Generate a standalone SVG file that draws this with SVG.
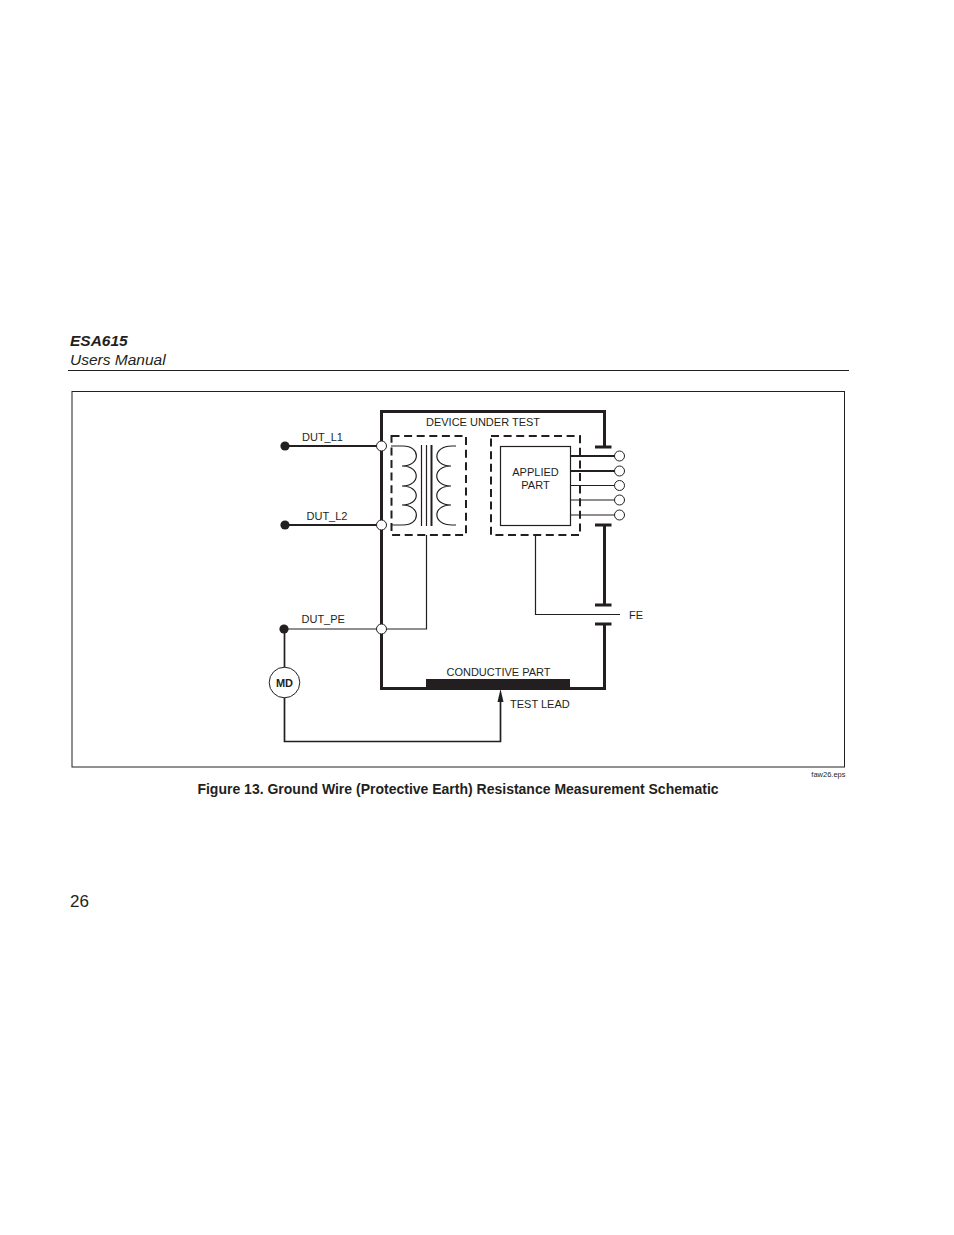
<svg xmlns="http://www.w3.org/2000/svg" width="954" height="1235" viewBox="0 0 954 1235">
<style>
text{font-family:"Liberation Sans",Arial,sans-serif;fill:#231f20}
.l{font-size:11px}
.w{fill:none;stroke:#231f20;stroke-width:1.2}
.h{fill:none;stroke:#231f20;stroke-width:3}
.m{fill:none;stroke:#231f20;stroke-width:2}
.t{fill:none;stroke:#231f20;stroke-width:1.700}
.d{fill:none;stroke:#231f20;stroke-width:2;stroke-dasharray:8 4.600}
.o{fill:#fff;stroke:#231f20;stroke-width:1}
.f{fill:#231f20}
</style>
<rect width="954" height="1235" fill="#fff"/>
<g id="header">
<text x="70" y="346" font-size="15.500" font-weight="bold" font-style="italic">ESA615</text>
<text x="70" y="365" font-size="15.500" font-style="italic">Users Manual</text>
<line x1="68" y1="370.500" x2="849" y2="370.500" stroke="#231f20" stroke-width="1"/>
</g>
<g id="frame"><rect x="72" y="391.500" width="772.500" height="375.500" fill="none" stroke="#231f20" stroke-width="1"/></g>
<g id="connectors">
<path class="h" d="M381.500 446V411.500H604.500V446M604.500 525V604M604.500 624V688.500H381.500V446"/>
<path class="h" d="M595 447H611.500M595 525H611.500M595 605H611.500M595 624H611.500"/>
<path class="m" d="M285 446H381M285 525H381"/>
<path class="w" d="M285 629H426.500V535"/>
<path class="w" d="M535.500 535V614.500H620"/>
<path class="m" d="M570 456H619M570 471H619"/>
<path class="w" d="M570 485.500H619M570 500H619M570 515H619"/>
<path class="t" d="M284.500 629V668M284.500 697V741.500H500.500V700"/>
<path class="f" d="M500.500 689L503.500 702H497.500Z"/>
</g>
<g id="dut_l1"><circle class="f" cx="285" cy="446" r="4.600"/><circle class="o" cx="381.500" cy="446" r="5"/><text class="l" x="302" y="441">DUT_L1</text></g>
<g id="dut_l2"><circle class="f" cx="285" cy="525" r="4.600"/><circle class="o" cx="381.500" cy="525" r="5"/><text class="l" x="306.500" y="520">DUT_L2</text></g>
<g id="dut_pe"><circle class="f" cx="284" cy="629" r="4.600"/><circle class="o" cx="381.500" cy="629" r="5"/><text class="l" x="301.500" y="623">DUT_PE</text></g>
<g id="md"><circle cx="284.500" cy="682.500" r="15.300" fill="#fff" stroke="#231f20" stroke-width="1"/><text x="284.500" y="686.500" font-size="11" font-weight="bold" text-anchor="middle">MD</text></g>
<g id="device_under_test"><text class="l" x="483" y="426" text-anchor="middle">DEVICE UNDER TEST</text></g>
<g id="transformer">
<rect class="d" x="391.500" y="436" width="74.500" height="99"/>
<path class="w" d="M391 446H403C421 446 421 466 402 466C421 466 421 486 402 486C421 486 421 505 402 505C421 505 421 525 403 525H391"/>
<path class="w" d="M456 446H452C432 446 432 466 451 466C432 466 432 486 451 486C432 486 432 505 451 505C432 505 432 525 452 525H456"/>
<path class="w" d="M421.500 445V526M426.500 445V526"/>
<path class="m" d="M431.500 445V526"/>
</g>
<g id="applied_part">
<rect class="d" x="491" y="436" width="89" height="99"/>
<rect x="500.500" y="446.500" width="70" height="79" fill="#fff" stroke="#231f20" stroke-width="1.200"/>
<text class="l" x="535.500" y="476" text-anchor="middle">APPLIED</text>
<text class="l" x="535.500" y="489" text-anchor="middle">PART</text>
</g>
<g id="terminals">
<circle class="o" cx="619.500" cy="456" r="5"/><circle class="o" cx="619.500" cy="471" r="5"/><circle class="o" cx="619.500" cy="485.500" r="5"/><circle class="o" cx="619.500" cy="500" r="5"/><circle class="o" cx="619.500" cy="515" r="5"/>
</g>
<g id="fe"><text class="l" x="629" y="619">FE</text></g>
<g id="conductive_part"><rect class="f" x="426" y="679" width="144" height="10"/><text class="l" x="498.500" y="676" text-anchor="middle">CONDUCTIVE PART</text></g>
<g id="test_lead"><text class="l" x="510" y="708">TEST LEAD</text></g>
<g id="caption">
<text x="845.500" y="777" font-size="7.500" text-anchor="end">faw26.eps</text>
<text x="458" y="794" font-size="14" font-weight="bold" text-anchor="middle">Figure 13. Ground Wire (Protective Earth) Resistance Measurement Schematic</text>
</g>
<g id="page"><text x="70" y="907" font-size="17">26</text></g>
</svg>
